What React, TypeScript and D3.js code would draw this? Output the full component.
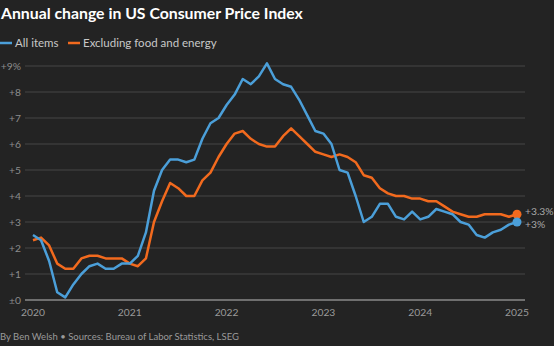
import React from "react";
import * as d3 from "d3";

const W = 554;
const H = 346;

const allItems = [
  2.5, 2.3, 1.5, 0.3, 0.1, 0.6, 1.0, 1.3, 1.4, 1.2, 1.2, 1.4,
  1.4, 1.7, 2.6, 4.2, 5.0, 5.4, 5.4, 5.3, 5.4, 6.2, 6.8, 7.0,
  7.5, 7.9, 8.5, 8.3, 8.6, 9.1, 8.5, 8.3, 8.2, 7.7, 7.1, 6.5,
  6.4, 6.0, 5.0, 4.9, 4.0, 3.0, 3.2, 3.7, 3.7, 3.2, 3.1, 3.4,
  3.1, 3.2, 3.5, 3.4, 3.3, 3.0, 2.9, 2.5, 2.4, 2.6, 2.7, 2.9,
  3.0,
];

const core = [
  2.3, 2.4, 2.1, 1.4, 1.2, 1.2, 1.6, 1.7, 1.7, 1.6, 1.6, 1.6,
  1.4, 1.3, 1.6, 3.0, 3.8, 4.5, 4.3, 4.0, 4.0, 4.6, 4.9, 5.5,
  6.0, 6.4, 6.5, 6.2, 6.0, 5.9, 5.9, 6.3, 6.6, 6.3, 6.0, 5.7,
  5.6, 5.5, 5.6, 5.5, 5.3, 4.8, 4.7, 4.3, 4.1, 4.0, 4.0, 3.9,
  3.9, 3.8, 3.8, 3.6, 3.4, 3.3, 3.2, 3.2, 3.3, 3.3, 3.3, 3.2,
  3.3,
];

const yTicks = [0, 1, 2, 3, 4, 5, 6, 7, 8, 9];
const yearTicks = [2020, 2021, 2022, 2023, 2024, 2025];

const BLUE = "#4b9fd9";
const ORANGE = "#f26a1e";
const BG = "#232323";

const fontFamily = "Lato, 'Noto Sans', sans-serif";

export default function App() {
  const x = d3.scaleLinear().domain([0, 60]).range([33, 517]);
  const y = d3.scaleLinear().domain([0, 9]).range([300, 66]);
  const line = d3
    .line<number>()
    .x((_, i) => x(i))
    .y((d) => y(d))
    .curve(d3.curveLinear);

  const lastI = allItems.length - 1;
  const fmtTick = (v: number) => (v === 0 ? "±0" : v === 9 ? "+9%" : `+${v}`);

  return (
    <svg
      width={W}
      height={H}
      style={{ position: "absolute", left: 0, top: 0, display: "block" }}
      fontFamily={fontFamily}
    >
      <rect x={0} y={0} width={W} height={H} fill={BG} />
      <text x={1} y={19} fill="#ffffff" fontSize={15.8} fontWeight={700}>
        Annual change in US Consumer Price Index
      </text>

      {/* legend */}
      <line x1={0} x2={12} y1={43} y2={43} stroke={BLUE} strokeWidth={2.5} />
      <text x={15} y={47} fill="#c8c8c8" fontSize={11.5}>All items</text>
      <line x1={68} x2={80} y1={43} y2={43} stroke={ORANGE} strokeWidth={2.5} />
      <text x={83} y={47} fill="#c8c8c8" fontSize={11.5}>Excluding food and energy</text>

      {/* grid */}
      {yTicks.map((t) => (
        <g key={t}>
          <line
            x1={25}
            x2={525}
            y1={y(t)}
            y2={y(t)}
            stroke={t === 0 ? "#8a8a8a" : "#474747"}
            strokeWidth={t === 0 ? 1.3 : 1}
          />
          <text
            x={21}
            y={y(t) + 3.5}
            textAnchor="end"
            fill="#8c8c8c"
            fontSize={10.3}
          >
            {fmtTick(t)}
          </text>
        </g>
      ))}

      {yearTicks.map((yr) => (
        <text
          key={yr}
          x={x((yr - 2020) * 12)}
          y={316}
          textAnchor="middle"
          fill="#9a9a9a"
          fontSize={10.3}
        >
          {yr}
        </text>
      ))}

      <path d={line(core) || ""} fill="none" stroke={ORANGE} strokeWidth={2.5} strokeLinejoin="round" />
      <path d={line(allItems) || ""} fill="none" stroke={BLUE} strokeWidth={2.5} strokeLinejoin="round" />

      <circle cx={x(lastI)} cy={y(core[lastI])} r={4.5} fill={ORANGE} />
      <circle cx={x(lastI)} cy={y(allItems[lastI])} r={4.5} fill={BLUE} />
      <text x={525} y={y(core[lastI]) + 0.5} fill="#a8a8a8" fontSize={10.3}>
        +3.3%
      </text>
      <text x={525} y={y(allItems[lastI]) + 6} fill="#a8a8a8" fontSize={10.3}>
        +3%
      </text>

      <text x={0} y={340} fill="#9a9a9a" fontSize={9.5}>
        By Ben Welsh • Sources: Bureau of Labor Statistics, LSEG
      </text>
    </svg>
  );
}
